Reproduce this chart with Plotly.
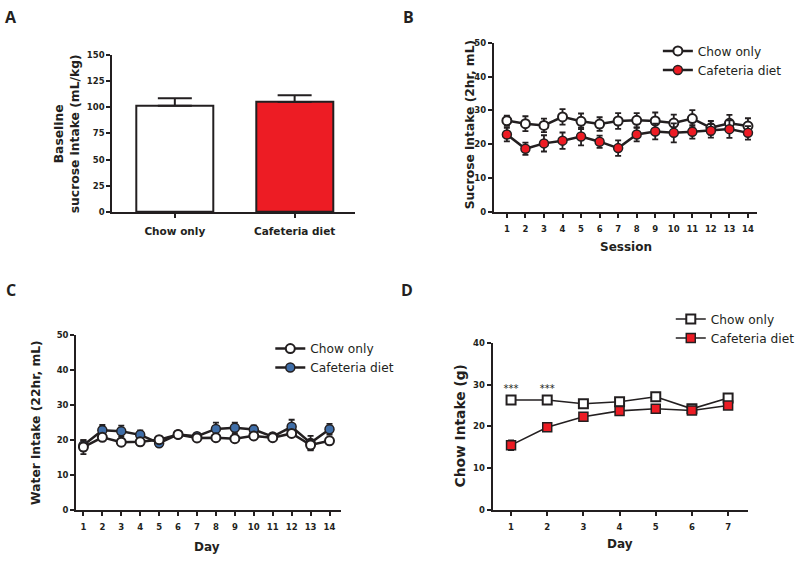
import plotly.graph_objects as go

# ---------------- data ----------------
groups = ["Chow only", "Cafeteria diet"]
baseline_mean = [101.3, 105.0]
baseline_sem = [7.2, 6.5]

sessions = list(range(1, 15))
sucrose_chow = [27.0, 26.1, 25.6, 28.1, 26.8, 26.0, 26.9, 27.1, 26.9, 26.3, 27.6, 24.9, 26.2, 25.4]
sucrose_chow_sem = [1.5, 2.2, 2.0, 2.3, 2.3, 2.0, 2.3, 2.1, 2.5, 2.5, 2.5, 2.0, 2.5, 2.3]
sucrose_caf = [22.9, 18.7, 20.3, 21.1, 22.3, 20.8, 18.9, 22.9, 23.8, 23.4, 23.7, 24.0, 24.5, 23.4]
sucrose_caf_sem = [2.0, 1.8, 2.4, 2.4, 2.6, 1.8, 2.3, 2.0, 2.3, 2.8, 2.0, 2.0, 2.6, 2.0]

days14 = list(range(1, 15))
water_chow = [18.0, 20.8, 19.4, 19.5, 20.1, 21.6, 20.6, 20.7, 20.4, 21.2, 20.7, 21.9, 18.6, 19.8]
water_chow_sem = [2.0, 0.6, 0.7, 0.6, 0.5, 0.5, 0.6, 0.8, 0.7, 0.6, 0.5, 0.6, 1.5, 0.7]
water_caf = [18.5, 22.8, 22.5, 21.5, 19.1, 21.6, 21.1, 23.2, 23.5, 23.0, 21.0, 23.8, 19.2, 23.1]
water_caf_sem = [1.5, 1.5, 1.6, 1.3, 0.6, 0.5, 0.8, 1.8, 1.5, 1.2, 0.6, 2.0, 2.0, 1.5]

days7 = list(range(1, 8))
chow_chow = [26.3, 26.3, 25.4, 25.9, 27.1, 24.2, 26.8]
chow_chow_sem = [0.3, 0.3, 0.9, 0.5, 0.7, 0.8, 0.7]
chow_caf = [15.5, 19.8, 22.3, 23.7, 24.2, 23.8, 25.0]
chow_caf_sem = [1.2, 0.7, 0.5, 0.5, 0.5, 0.5, 0.5]
sig_days = [1, 2]
sig_y = [30.0, 30.0]

# ---------------- style ----------------
INK = "#231f20"
RED = "#ed1c24"
BLUE = "#3f6ea8"
FONT = "DejaVu Sans"
W, H = 800, 561


def dom_x(a, b):
    return [a / W, b / W]


def dom_y(top, bottom):
    return [1 - bottom / H, 1 - top / H]


legfont = dict(family=FONT, size=12.2, color=INK)


def ax(size=8.5, standoff=0):
    return dict(showline=True, linecolor=INK, linewidth=2, ticks="outside",
                ticklen=4, tickwidth=2, tickcolor=INK, showgrid=False,
                zeroline=False, ticklabelstandoff=standoff,
                tickfont=dict(family=FONT, size=size, color=INK, weight="bold"))


fig = go.Figure()

# ---------- Panel A ----------
fig.add_trace(go.Bar(
    x=[0, 1], y=baseline_mean, width=0.64,
    marker=dict(color=["white", RED], line=dict(color=INK, width=2)),
    error_y=dict(type="data", array=baseline_sem, arrayminus=[0, 0], symmetric=False,
                 color=INK, thickness=2, width=17),
    xaxis="x", yaxis="y", showlegend=False))

# ---------- Panel B ----------
fig.add_trace(go.Scatter(
    x=sessions, y=sucrose_chow, mode="lines+markers", name="Chow only",
    line=dict(color=INK, width=2.5),
    marker=dict(symbol="circle", size=9, color="white", line=dict(color=INK, width=2)),
    error_y=dict(type="data", array=sucrose_chow_sem, color=INK, thickness=1.8, width=3),
    xaxis="x2", yaxis="y2", legend="legend"))
fig.add_trace(go.Scatter(
    x=sessions, y=sucrose_caf, mode="lines+markers", name="Cafeteria diet",
    line=dict(color=INK, width=2.5),
    marker=dict(symbol="circle", size=9, color=RED, line=dict(color=INK, width=1.5)),
    error_y=dict(type="data", array=sucrose_caf_sem, color=INK, thickness=1.8, width=3),
    xaxis="x2", yaxis="y2", legend="legend"))

# ---------- Panel C ----------
fig.add_trace(go.Scatter(
    x=days14, y=water_caf, mode="lines+markers", name="Cafeteria diet",
    line=dict(color=INK, width=2.5),
    marker=dict(symbol="circle", size=9, color=BLUE, line=dict(color=INK, width=1.5)),
    error_y=dict(type="data", array=water_caf_sem, color=INK, thickness=1.8, width=3),
    xaxis="x3", yaxis="y3", legend="legend2"))
fig.add_trace(go.Scatter(
    x=days14, y=water_chow, mode="lines+markers", name="Chow only",
    line=dict(color=INK, width=2.5),
    marker=dict(symbol="circle", size=9, color="white", line=dict(color=INK, width=2)),
    error_y=dict(type="data", array=water_chow_sem, color=INK, thickness=1.8, width=3),
    xaxis="x3", yaxis="y3", legend="legend2"))

# ---------- Panel D ----------
fig.add_trace(go.Scatter(
    x=days7, y=chow_chow, mode="lines+markers", name="Chow only",
    line=dict(color=INK, width=1.6),
    marker=dict(symbol="square", size=9, color="white", line=dict(color=INK, width=2)),
    error_y=dict(type="data", array=chow_chow_sem, color=INK, thickness=1.5, width=3),
    xaxis="x4", yaxis="y4", legend="legend3"))
fig.add_trace(go.Scatter(
    x=days7, y=chow_caf, mode="lines+markers", name="Cafeteria diet",
    line=dict(color=INK, width=1.6),
    marker=dict(symbol="square", size=9, color=RED, line=dict(color=INK, width=1.5)),
    error_y=dict(type="data", array=chow_caf_sem, color=INK, thickness=1.5, width=3),
    xaxis="x4", yaxis="y4", legend="legend3"))
fig.add_trace(go.Scatter(
    x=sig_days, y=sig_y, mode="text", text=["***", "***"], textposition="bottom center",
    textfont=dict(family=FONT, size=10, color=INK),
    xaxis="x4", yaxis="y4", showlegend=False, hoverinfo="skip"))

fig.update_layout(
    width=W, height=H, margin=dict(l=0, r=0, t=0, b=0),
    paper_bgcolor="white", plot_bgcolor="white",
    font=dict(family=FONT, color=INK),
    # A
    xaxis=dict(**ax(10.5, 4), domain=dom_x(113, 357), range=[-0.522, 1.502],
               tickvals=[0, 1], ticktext=groups, anchor="y"),
    yaxis=dict(**ax(), domain=dom_y(50.7, 210.7), range=[0, 150], dtick=25, anchor="x"),
    # B
    xaxis2=dict(**ax(8.5, 4), domain=dom_x(497, 762), range=[0.3, 14.5], dtick=1, anchor="y2"),
    yaxis2=dict(**ax(), domain=dom_y(38.3, 211), range=[0, 50], dtick=10, anchor="x2"),
    # C
    xaxis3=dict(**ax(8.5, 4), domain=dom_x(76.7, 343), range=[0.62, 14.6], dtick=1, anchor="y3"),
    yaxis3=dict(**ax(), domain=dom_y(336, 514.3), range=[0, 50], dtick=10, anchor="x3"),
    # D
    xaxis4=dict(**ax(8.5, 4), domain=dom_x(495.7, 752.7), range=[0.49, 7.55], dtick=1, anchor="y4"),
    yaxis4=dict(**ax(), domain=dom_y(344, 514), range=[0, 40], dtick=10, anchor="x4"),
    legend=dict(x=662 / W, y=1 - 32 / H, xanchor="left", yanchor="top",
                font=legfont, bgcolor="rgba(0,0,0,0)"),
    legend2=dict(x=272 / W, y=1 - 335 / H, xanchor="left", yanchor="top",
                 font=legfont, traceorder="reversed", bgcolor="rgba(0,0,0,0)"),
    legend3=dict(x=675 / W, y=1 - 305 / H, xanchor="left", yanchor="top",
                 font=legfont, bgcolor="rgba(0,0,0,0)"),
    bargap=0,
)

# axis titles (placed to match the reference)
ytitles = [("Baseline<br>sucrose intake (mL/kg)", 67.5, 131.5, 12.3),
           ("Sucrose intake (2hr, mL)", 472.7, 121.7, 12.3),
           ("Water intake (22hr, mL)", 36.7, 425, 12.3),
           ("Chow Intake (g)", 463, 429, 13.8)]
for txt, px, py, sz in ytitles:
    fig.add_annotation(text=txt, x=px / W, y=1 - py / H, xref="paper", yref="paper",
                       xanchor="center", yanchor="middle", textangle=-90, showarrow=False,
                       font=dict(family=FONT, size=sz, color=INK, weight="bold"))
xtitles = [("Session", 630, 246.7), ("Day", 208.7, 551.7), ("Day", 623.7, 548.3)]
for txt, px, py in xtitles:
    fig.add_annotation(text=txt, x=px / W, y=1 - py / H, xref="paper", yref="paper",
                       xanchor="center", yanchor="middle", showarrow=False,
                       font=dict(family=FONT, size=12, color=INK, weight="bold"))

# panel letters
for lbl, px, py in [("A", 3, 12), ("B", 404, 12), ("C", 4, 290), ("D", 402, 290)]:
    fig.add_annotation(text=f"<b>{lbl}</b>", x=px / W, y=1 - py / H, xref="paper", yref="paper",
                       xanchor="left", yanchor="middle", showarrow=False,
                       font=dict(family="Open Sans", size=16, color=INK))

fig.write_html("out.html", config={"displayModeBar": False},
               post_script="document.body.style.margin='0px';")
